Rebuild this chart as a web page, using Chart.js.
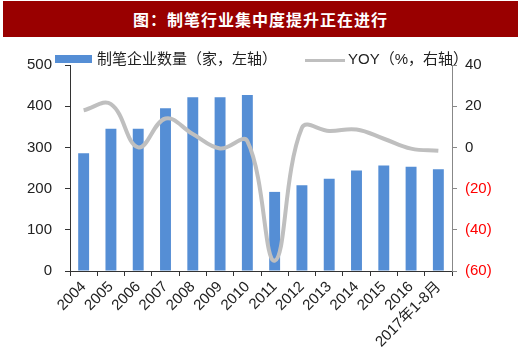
<!DOCTYPE html>
<html>
<head>
<meta charset="utf-8">
<script src="https://cdn.jsdelivr.net/npm/chart.js@4"></script>
<style>
  body { margin: 0; width: 520px; height: 364px; background: #fff; position: relative; overflow: hidden;
         font-family: "Liberation Sans", Arial, "Noto Sans CJK SC", sans-serif; }
  #wrap { position: absolute; left: 0; top: 0; width: 520px; height: 364px; }
  .title { position: absolute; left: 3px; top: 1px; width: 515px; height: 36px; background: #990000;
           color: #fff; font-weight: bold; font-size: 16px; letter-spacing: 1px; line-height: 36px;
           text-align: center; font-family: "Noto Sans CJK SC", sans-serif; }
  .leg { position: absolute; font-size: 15px; color: #222; line-height: 18px; top: 50px;
         font-family: "Liberation Sans", Arial, "Noto Sans CJK SC", sans-serif; }
  .box { position: absolute; left: 55px; top: 55px; width: 37px; height: 8px; background: #558ed5; }
  .ln { position: absolute; left: 305px; top: 59px; width: 40px; height: 3px; background: #bfbfbf; }
</style>
</head>
<body>
<div id="wrap"><canvas id="chart" width="520" height="364"></canvas></div>
<div class="title">图：制笔行业集中度提升正在进行</div>
<div class="box"></div>
<div class="leg" style="left:97px">制笔企业数量（家，左轴）</div>
<div class="ln"></div>
<div class="leg" style="left:348px">YOY（%，右轴）</div>
<script>
// categories and values
const years = ['2004','2005','2006','2007','2008','2009','2010','2011','2012','2013','2014','2015','2016','2017年1-8月'];
const companies = [286, 345, 345, 395, 422, 422, 427, 192, 208, 224, 244, 256, 253, 247];
const yoy = [18, 21, 0, 14, 6.5, -0.5, 3, -55, 9.5, 8, 8.7, 4.2, -0.6, -1.6];

const leftTicks = [0, 100, 200, 300, 400, 500];
const rightTicks = [-60, -40, -20, 0, 20, 40];

const font = { family: '"Liberation Sans", Arial, "Noto Sans CJK SC", sans-serif', size: 15 };

const ctx = document.getElementById('chart').getContext('2d');
new Chart(ctx, {
  data: {
    labels: years,
    datasets: [
      {
        type: 'line',
        label: 'YOY（%，右轴）',
        data: yoy,
        yAxisID: 'y1',
        borderColor: '#bfbfbf',
        borderWidth: 4,
        pointRadius: 0,
        tension: 0.4,
        order: 0
      },
      {
        type: 'bar',
        label: '制笔企业数量（家，左轴）',
        data: companies,
        yAxisID: 'y',
        backgroundColor: '#558ed5',
        barPercentage: 0.4,
        categoryPercentage: 1,
        order: 1
      }
    ]
  },
  options: {
    responsive: false,
    animation: false,
    layout: { padding: { top: 65, left: 0, right: 0, bottom: 0 } },
    plugins: { legend: { display: false }, tooltip: { enabled: false } },
    scales: {
      x: {
        offset: true,
        grid: { display: true, drawOnChartArea: false, offset: true, tickLength: 5, color: '#333' },
        border: { display: true, color: '#333' },
        ticks: { font: { ...font, size: 15 }, color: '#222', maxRotation: 45, minRotation: 45, padding: 2, autoSkip: false },
        afterFit: s => { s.height = 93; }
      },
      y: {
        position: 'left',
        min: 0, max: 500,
        afterBuildTicks: s => { s.ticks = leftTicks.map(v => ({ value: v })); },
        grid: { display: true, drawOnChartArea: false, tickLength: 5, color: '#333' },
        border: { display: true, color: '#333' },
        ticks: { font: font, color: '#222', padding: 13 },
        afterFit: s => { s.width = 70; }
      },
      y1: {
        position: 'right',
        min: -60, max: 40,
        afterBuildTicks: s => { s.ticks = rightTicks.map(v => ({ value: v })); },
        grid: { display: true, drawOnChartArea: false, tickLength: 5, color: '#888' },
        border: { display: true, color: '#888' },
        ticks: {
          font: font,
          padding: 8,
          color: c => (c.tick && c.tick.value < 0) ? '#ff0000' : '#222',
          callback: v => v < 0 ? '(' + (-v) + ')' : String(v)
        },
        afterFit: s => { s.width = 68; }
      }
    }
  }
});
</script>
</body>
</html>
